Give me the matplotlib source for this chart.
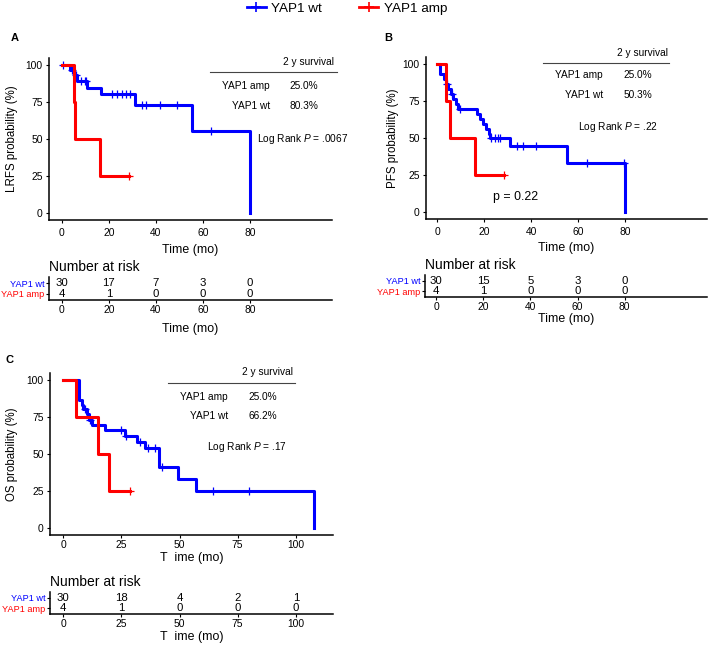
import numpy as np
import matplotlib
matplotlib.use("Agg")
import matplotlib.pyplot as plt
from matplotlib.lines import Line2D

plt.rcParams['font.family'] = ['Liberation Sans', 'DejaVu Sans']
plt.rcParams['mathtext.fontset'] = 'custom'
plt.rcParams['mathtext.rm'] = 'Liberation Sans'
plt.rcParams['mathtext.it'] = 'Liberation Sans:italic'

BLUE = '#0000ff'
RED = '#ff0000'
W, H = 709, 645

# ---- panel A: LRFS ----
a_wt_t = [0, 3.3, 5.0, 6.6, 10.8, 16.6, 31, 55.6, 80]
a_wt_s = [100, 96.7, 93.3, 89.7, 84.9, 80.3, 73.4, 55.1, 0]
a_wt_cens = [0.3, 4.3, 6.0, 8.0, 9.8, 10.3, 21.5, 23.5, 25.4, 27.2, 29, 34, 36, 41.8, 49, 63.6]
a_amp_t = [0, 5.0, 5.4, 16.1, 28.7]
a_amp_s = [100, 75, 50, 25, 25]
a_amp_cens = [28.7]
a_risk_t = [0, 20, 40, 60, 80]
a_risk_wt = [30, 17, 7, 3, 0]
a_risk_amp = [4, 1, 0, 0, 0]
a_surv2y = ['25.0%', '80.3%']
a_logrank = '.0067'

# ---- panel B: PFS ----
b_wt_t = [0, 1.0, 2.9, 3.6, 4.7, 5.7, 6.7, 7.9, 9.0, 17.1, 18.1, 19.6, 20.7, 21.9, 22.4, 31, 55.3, 80]
b_wt_s = [100, 93.3, 90.0, 86.7, 83.3, 80.0, 76.7, 73.3, 70.0, 66.5, 63.0, 59.6, 56.1, 52.6, 50.3, 44.4, 33.3, 0]
b_wt_cens = [4.2, 6.2, 9.6, 22.8, 24.7, 25.9, 26.7, 33.9, 36.7, 42.1, 64, 79.6]
b_amp_t = [0, 3.6, 5.3, 16.1, 28.6]
b_amp_s = [100, 75, 50, 25, 25]
b_amp_cens = [28.6]
b_risk_t = [0, 20, 40, 60, 80]
b_risk_wt = [30, 15, 5, 3, 0]
b_risk_amp = [4, 1, 0, 0, 0]
b_surv2y = ['25.0%', '50.3%']
b_logrank = '.22'

# ---- panel C: OS ----
c_wt_t = [0, 6.7, 7.9, 8.6, 10.0, 11.2, 12.2, 17.9, 26.5, 31.5, 35.1, 41.3, 49.4, 57.3, 107.7]
c_wt_s = [100, 86.9, 83.6, 80.3, 76.9, 73.4, 70.0, 66.2, 62.5, 58.2, 53.9, 41.3, 33.0, 24.8, 0]
c_wt_cens = [9.2, 11.6, 25.0, 27.0, 33.0, 36.5, 39.4, 42.3, 64.2, 80.0]
c_amp_t = [0, 5.4, 15.0, 19.8, 28.9]
c_amp_s = [100, 75, 50, 25, 25]
c_amp_cens = [28.9]
c_risk_t = [0, 25, 50, 75, 100]
c_risk_wt = [30, 18, 4, 2, 1]
c_risk_amp = [4, 1, 0, 0, 0]
c_surv2y = ['25.0%', '66.2%']
c_logrank = '.17'

groups = ['YAP1 wt', 'YAP1 amp']

fig = plt.figure(figsize=(W / 100, H / 100), dpi=100)


def px_axes(l, t, r, b):
    return fig.add_axes([l / W, 1 - b / H, (r - l) / W, (b - t) / H])


def ftext(x, y, s, **kw):
    fig.text(x / W, 1 - y / H, s, **kw)


def style(ax):
    for sp in ['top', 'right']:
        ax.spines[sp].set_visible(False)
    for sp in ['left', 'bottom']:
        ax.spines[sp].set_linewidth(1.1)
    ax.tick_params(length=2.5, width=0.8, labelsize=7.4, pad=2)


def step_at(t, s, x):
    i = np.searchsorted(t, x, side='right') - 1
    return np.asarray(s)[i]


def km_panel(box, risk_box, xlim, xticks, wt, amp, ylabel, xlabel, lab_pos):
    ax = px_axes(*box)
    style(ax)
    for (t, s, cens), col in [(wt, BLUE), (amp, RED)]:
        ax.step(t, s, where='post', color=col, lw=2.2)
        ax.plot(cens, step_at(t, s, cens), ls='none', marker='+',
                ms=5.5, mew=0.9, color=col)
    ax.set_xlim(*xlim)
    ax.set_ylim(-5, 105)
    ax.set_xticks(xticks)
    ax.set_yticks([0, 25, 50, 75, 100])
    l, t_, r, b = box
    ax.set_ylabel(ylabel, fontsize=8.3, va='center')
    ax.yaxis.set_label_coords((lab_pos[0] - l) / (r - l), 0.5)
    ax.set_xlabel(xlabel, fontsize=8.9, va='center')
    ax.xaxis.set_label_coords(0.5, (b - lab_pos[1]) / (b - t_))

    rax = px_axes(*risk_box)
    style(rax)
    rax.set_xlim(*xlim)
    rax.set_ylim(0.45, 2.55)
    rax.set_xticks(xticks)
    rax.set_yticks([2, 1])
    rax.set_yticklabels(groups, fontsize=6.6)
    for lbl, col in zip(rax.get_yticklabels(), [BLUE, RED]):
        lbl.set_color(col)
    rax.tick_params(axis='y', pad=1)
    rax.tick_params(axis='x', pad=1.3)
    rax.set_title('Number at risk', loc='left', fontsize=10, pad=4)
    return ax, rax


def risk_numbers(rax, times, wt, amp):
    for x, n1, n2 in zip(times, wt, amp):
        rax.text(x, 2, str(n1), ha='center', va='center', fontsize=8.2)
        rax.text(x, 1, str(n2), ha='center', va='center', fontsize=8.2)


def surv_table(x_lab, x_val, y_head, y_line, y_rows, line_span, vals, x_lr, y_lr, p):
    ftext(x_val + 30, y_head, '2 y survival', ha='right', va='center', fontsize=7.3)
    fig.add_artist(Line2D([line_span[0] / W, line_span[1] / W],
                          [1 - y_line / H, 1 - y_line / H],
                          color='#444444', lw=0.8))
    for name, v, y in zip(['YAP1 amp', 'YAP1 wt'], vals, y_rows):
        ftext(x_lab, y, name, ha='right', va='center', fontsize=7.3)
        ftext(x_val, y, v, ha='center', va='center', fontsize=7.3)
    ftext(x_lr, y_lr, 'Log Rank $P$ = ' + p, ha='left', va='center', fontsize=7.3)


# A
axA, rA = km_panel((49, 58, 332, 220), (49, 277, 332, 300), (-5.5, 115), a_risk_t,
                   (a_wt_t, a_wt_s, a_wt_cens), (a_amp_t, a_amp_s, a_amp_cens),
                   'LRFS probability (%)', 'Time (mo)', (12, 250))
axA.tick_params(axis='x', pad=3)
rA.set_xlabel('Time (mo)', fontsize=8.9, va='center')
rA.xaxis.set_label_coords(0.5, (300 - 329) / 23)
risk_numbers(rA, a_risk_t, a_risk_wt, a_risk_amp)
surv_table(270, 304, 62, 72, (86, 106), (210, 337), a_surv2y, 257, 139, a_logrank)

# B
axB, rB = km_panel((426, 57, 707, 219), (425, 275, 707, 297), (-4.8, 115), b_risk_t,
                   (b_wt_t, b_wt_s, b_wt_cens), (b_amp_t, b_amp_s, b_amp_cens),
                   'PFS probability (%)', 'Time (mo)', (393, 248))
axB.tick_params(axis='x', pad=3)
rB.set_xlabel('Time (mo)', fontsize=8.9, va='center')
rB.xaxis.set_label_coords(0.5, (297 - 319) / 22)
risk_numbers(rB, b_risk_t, b_risk_wt, b_risk_amp)
surv_table(603, 638, 53, 63, (75, 95), (543, 669), b_surv2y, 578, 127, b_logrank)
ftext(516, 197, 'p = 0.22', ha='center', va='center', fontsize=8.9)

# C
axC, rC = km_panel((50, 373, 333, 535), (50, 592, 333, 614), (-5.7, 116), c_risk_t,
                   (c_wt_t, c_wt_s, c_wt_cens), (c_amp_t, c_amp_s, c_amp_cens),
                   'OS probability (%)', 'T  ime (mo)', (12, 558))
axC.tick_params(axis='x', pad=1)
rC.set_xlabel('T  ime (mo)', fontsize=8.9, va='center')
rC.xaxis.set_label_coords(0.5, (614 - 637) / 22)
risk_numbers(rC, c_risk_t, c_risk_wt, c_risk_amp)
surv_table(228, 263, 372, 383, (397, 416), (168, 295), c_surv2y, 207, 447, c_logrank)

# panel letters
ftext(15, 38, 'A', fontsize=8, fontweight='bold', ha='center', va='center')
ftext(388, 38, 'B', fontsize=8, fontweight='bold', ha='center', va='center')
ftext(10, 360, 'C', fontsize=8, fontweight='bold', ha='center', va='center')

# legend
handles = [Line2D([], [], color=BLUE, lw=2, marker='+', ms=7, mew=1.2),
           Line2D([], [], color=RED, lw=2, marker='+', ms=7, mew=1.2)]
fig.legend(handles, groups, loc='center', bbox_to_anchor=(347 / W, 1 - 9 / H),
           ncol=2, frameon=False, fontsize=9.7, handlelength=1.4,
           handletextpad=0.4, columnspacing=2.8)

fig.savefig('out.png', dpi=100)
